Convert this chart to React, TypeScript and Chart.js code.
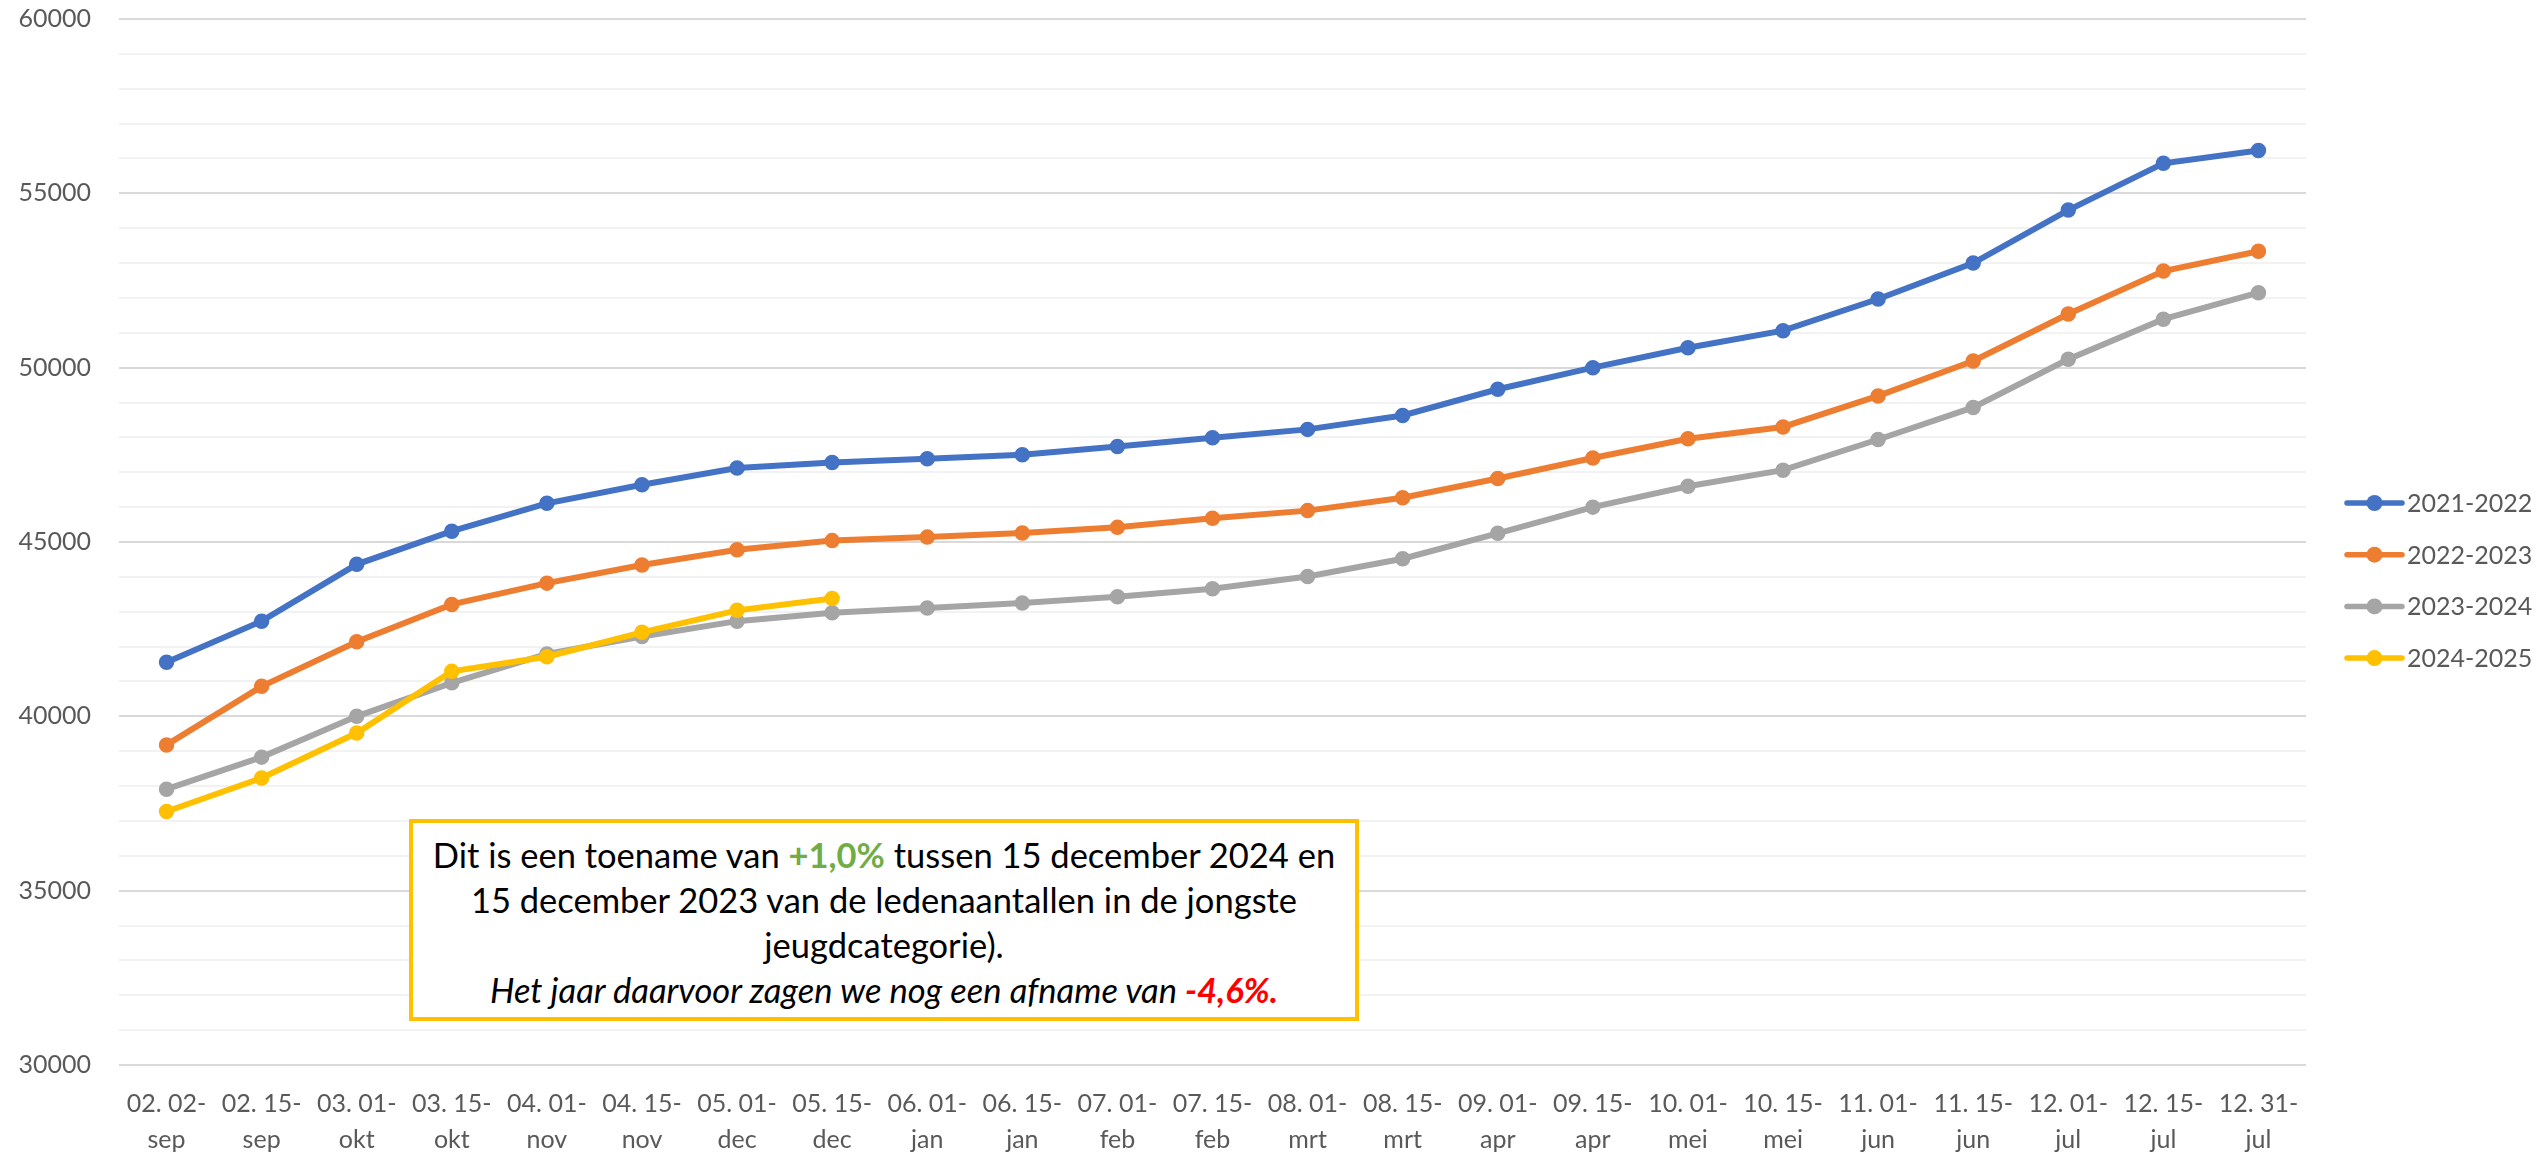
import React, { useEffect, useRef } from "react";
import { Chart, registerables } from "chart.js";

Chart.register(...registerables);

const categories: string[][] = [
  ["02. 02-", "sep"], ["02. 15-", "sep"], ["03. 01-", "okt"], ["03. 15-", "okt"],
  ["04. 01-", "nov"], ["04. 15-", "nov"], ["05. 01-", "dec"], ["05. 15-", "dec"],
  ["06. 01-", "jan"], ["06. 15-", "jan"], ["07. 01-", "feb"], ["07. 15-", "feb"],
  ["08. 01-", "mrt"], ["08. 15-", "mrt"], ["09. 01-", "apr"], ["09. 15-", "apr"],
  ["10. 01-", "mei"], ["10. 15-", "mei"], ["11. 01-", "jun"], ["11. 15-", "jun"],
  ["12. 01-", "jul"], ["12. 15-", "jul"], ["12. 31-", "jul"],
];

const series2021: number[] = [
  41550, 42730, 44360, 45310, 46110, 46640, 47120, 47280, 47390, 47500, 47740, 47990,
  48230, 48630, 49380, 50000, 50570, 51060, 51970, 53000, 54520, 55860, 56230,
];
const series2022: number[] = [
  39180, 40860, 42140, 43210, 43820, 44340, 44780, 45040, 45140, 45260, 45420, 45680,
  45900, 46270, 46820, 47410, 47960, 48300, 49190, 50190, 51540, 52770, 53340,
];
const series2023: number[] = [
  37910, 38830, 40000, 40960, 41790, 42290, 42730, 42970, 43110, 43250, 43430, 43660,
  44010, 44520, 45250, 46000, 46600, 47060, 47940, 48860, 50240, 51390, 52150,
];
const series2024: number[] = [37270, 38230, 39520, 41290, 41710, 42410, 43040, 43380];

const seriesLabels: string[] = ["2021-2022", "2022-2023", "2023-2024", "2024-2025"];
const seriesColors: string[] = ["#4472C4", "#ED7D31", "#A5A5A5", "#FFC000"];

const Y_MIN = 30000;
const Y_MAX = 60000;
const Y_STEP = 1000;
const Y_LABEL_STEP = 5000;

const FONT = "Lato, 'Open Sans', sans-serif";

const legendPlugin = {
  id: "lineLegend",
  afterDraw(chart: any) {
    const ctx = chart.ctx as CanvasRenderingContext2D;
    const x0 = chart.chartArea.right + 41;
    ctx.save();
    chart.data.datasets.forEach((ds: any, i: number) => {
      const y = 503 + i * 51.7;
      ctx.strokeStyle = ds.borderColor;
      ctx.lineWidth = 5.5;
      ctx.lineCap = "round";
      ctx.beginPath();
      ctx.moveTo(x0, y);
      ctx.lineTo(x0 + 55, y);
      ctx.stroke();
      ctx.fillStyle = ds.borderColor;
      ctx.beginPath();
      ctx.arc(x0 + 27.5, y, 8, 0, Math.PI * 2);
      ctx.fill();
      ctx.fillStyle = "#595959";
      ctx.font = `25px ${FONT}`;
      ctx.textAlign = "left";
      ctx.textBaseline = "middle";
      ctx.fillText(ds.label, x0 + 60, y + 1);
    });
    ctx.restore();
  },
};

export default function App() {
  const canvasRef = useRef<HTMLCanvasElement | null>(null);

  useEffect(() => {
    let chart: Chart | null = null;
    let cancelled = false;
    const make = () => {
      if (cancelled || !canvasRef.current) return;
      const allSeries = [series2021, series2022, series2023, series2024];
      chart = new Chart(canvasRef.current, {
        type: "line",
        data: {
          labels: categories,
          datasets: allSeries.map((data, i) => ({
            label: seriesLabels[i],
            data,
            borderColor: seriesColors[i],
            backgroundColor: seriesColors[i],
            pointBackgroundColor: seriesColors[i],
            pointBorderColor: seriesColors[i],
            borderWidth: 6,
            pointRadius: 7,
            pointBorderWidth: 1.5,
            pointHoverRadius: 7,
            tension: 0,
            fill: false,
            order: 3 - i,
          })),
        },
        options: {
          responsive: false,
          animation: false,
          layout: { padding: { top: 19, right: 236, left: 0, bottom: 0 } },
          plugins: {
            legend: { display: false },
            tooltip: { enabled: false },
          },
          scales: {
            x: {
              offset: true,
              grid: { display: false, drawTicks: false, offset: true },
              border: { display: false },
              ticks: {
                autoSkip: false,
                maxRotation: 0,
                minRotation: 0,
                padding: 21,
                color: "#595959",
                font: { family: FONT, size: 25, lineHeight: 1.45 },
              },
              afterFit: (s: any) => {
                s.height = 90;
                s.paddingLeft = 0;
                s.paddingRight = 0;
              },
            },
            y: {
              min: Y_MIN,
              max: Y_MAX,
              border: { display: false },
              grid: {
                drawTicks: false,
                lineWidth: 2,
                color: (c: any) =>
                  c.tick && c.tick.value % Y_LABEL_STEP === 0 ? "#D9D9D9" : "#F2F2F2",
              },
              ticks: {
                stepSize: Y_STEP,
                padding: 28,
                color: "#595959",
                font: { family: FONT, size: 25 },
                callback: (v: any) => (Number(v) % Y_LABEL_STEP === 0 ? String(v) : ""),
              },
              afterFit: (s: any) => {
                s.width = 119;
                s.paddingTop = 0;
                s.paddingBottom = 0;
              },
            },
          },
        },
        plugins: [legendPlugin],
      });
    };
    const fontsApi = (document as any).fonts;
    if (fontsApi && fontsApi.load) {
      Promise.all([
        fontsApi.load(`25px Lato`),
        fontsApi.load(`34px Lato`),
        fontsApi.load(`italic 34px Lato`),
        fontsApi.load(`bold 34px Lato`),
      ])
        .catch(() => null)
        .then(make);
    } else {
      make();
    }
    return () => {
      cancelled = true;
      if (chart) chart.destroy();
    };
  }, []);

  return (
    <div style={{ position: "absolute", left: 0, top: 0, width: 2542, height: 1155, background: "#fff" }}>
      <canvas ref={canvasRef} width={2542} height={1155} style={{ width: 2542, height: 1155, display: "block" }} />
      <div
        style={{
          position: "absolute",
          left: 409,
          top: 819,
          width: 950,
          height: 202,
          boxSizing: "border-box",
          border: "4px solid #FFC000",
          background: "#fff",
          paddingTop: 9,
          textAlign: "center",
          fontFamily: FONT,
          fontSize: 34.5,
          lineHeight: "45px",
          color: "#000",
          whiteSpace: "nowrap",
        }}
      >
        Dit is een toename van <span style={{ color: "#70AD47", fontWeight: "bold" }}>+1,0%</span> tussen 15 december 2024 en
        <br />
        15 december 2023 van de ledenaantallen in de jongste
        <br />
        jeugdcategorie).
        <br />
        <span style={{ fontStyle: "italic" }}>
          Het jaar daarvoor zagen we nog een afname van{" "}
          <span style={{ color: "#FF0000", fontWeight: "bold" }}>-4,6%.</span>
        </span>
      </div>
    </div>
  );
}
